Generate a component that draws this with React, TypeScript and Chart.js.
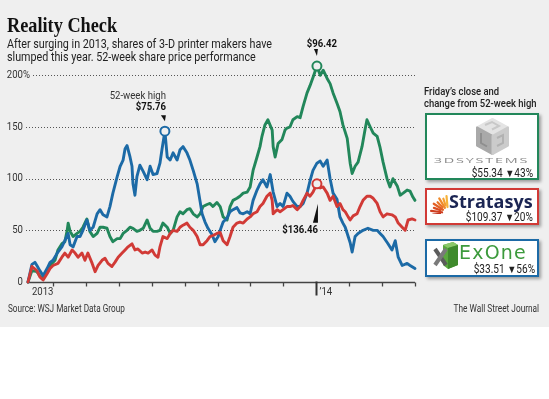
import React, { useEffect, useRef } from "react";
import { Chart, registerables } from "chart.js";

Chart.register(...registerables);

// ---------------- data ----------------
// x = months since Jan 1 2013, y = % change since start of period
const yTickValues = [0, 50, 100, 150, 200];
const xTickMonths = [4, 5, 6, 7, 8, 9, 10, 11, 12, 13, 14, 15];
const xTickLabels: Record<number, string> = { 4: "2013", 12: "\u201914" };
const majorTickMonth = 12;

const dddSeries: [number, number][] = [
  [3.24, 0], [3.36, 11], [3.51, 10], [3.6, 6], [3.7, 3], [3.82, 10], [3.91, 16], [4.06, 21], [4.15, 31], [4.27, 37],
  [4.36, 39], [4.43, 50], [4.46, 57], [4.52, 49], [4.61, 44], [4.73, 47], [4.82, 49], [4.91, 53], [5.03, 61], [5.12, 49],
  [5.22, 44], [5.34, 47], [5.43, 53], [5.52, 53], [5.64, 52], [5.73, 44], [5.82, 39], [5.95, 42], [6.04, 42], [6.13, 47],
  [6.25, 50], [6.34, 53], [6.43, 52], [6.55, 49], [6.64, 50], [6.74, 52], [6.86, 60], [6.95, 52], [7.04, 49], [7.16, 49],
  [7.25, 50], [7.34, 57], [7.47, 53], [7.56, 47], [7.65, 50], [7.77, 63], [7.86, 68], [7.95, 66], [8.07, 70], [8.16, 71],
  [8.26, 66], [8.38, 63], [8.47, 66], [8.56, 73], [8.68, 75], [8.77, 76], [8.86, 73], [8.98, 77], [9.08, 73], [9.17, 63],
  [9.29, 60], [9.38, 73], [9.47, 79], [9.59, 81], [9.68, 83], [9.78, 86], [9.9, 87], [9.99, 92], [10.08, 108], [10.2, 121],
  [10.29, 131], [10.35, 141], [10.44, 152], [10.53, 157], [10.66, 147], [10.69, 131], [10.75, 121], [10.84, 134], [10.96, 138], [11.05, 147],
  [11.11, 149], [11.2, 150], [11.29, 157], [11.42, 160], [11.51, 159], [11.6, 170], [11.72, 183], [11.81, 190], [11.9, 198], [12.02, 209],
  [12.12, 200], [12.21, 205], [12.33, 197], [12.42, 192], [12.51, 183], [12.63, 173], [12.72, 165], [12.81, 152], [12.94, 139], [13.03, 115],
  [13.09, 105], [13.18, 112], [13.27, 116], [13.39, 131], [13.48, 147], [13.54, 157], [13.64, 150], [13.73, 144], [13.85, 141], [13.94, 130],
  [14.03, 116], [14.15, 100], [14.24, 92], [14.33, 100], [14.46, 93], [14.55, 84], [14.64, 86], [14.76, 89], [14.85, 88], [14.94, 82],
  [15.0, 79],
];

const ssysSeries: [number, number][] = [
  [3.24, 0], [3.36, 15], [3.51, 11], [3.6, 5], [3.7, 2], [3.82, 8], [3.91, 13], [4.0, 16], [4.15, 18], [4.27, 24],
  [4.36, 28], [4.46, 24], [4.58, 31], [4.67, 28], [4.76, 24], [4.88, 28], [4.97, 21], [5.06, 28], [5.19, 18], [5.28, 10],
  [5.37, 16], [5.49, 21], [5.58, 23], [5.67, 18], [5.79, 15], [5.88, 19], [5.98, 24], [6.1, 28], [6.19, 31], [6.28, 34],
  [6.4, 37], [6.49, 31], [6.58, 32], [6.71, 28], [6.8, 29], [6.89, 28], [7.01, 31], [7.1, 26], [7.19, 24], [7.25, 34],
  [7.34, 44], [7.47, 42], [7.56, 47], [7.65, 50], [7.77, 49], [7.86, 53], [7.95, 55], [8.07, 57], [8.16, 53], [8.26, 50],
  [8.38, 44], [8.47, 36], [8.56, 36], [8.68, 40], [8.77, 44], [8.86, 45], [8.98, 47], [9.08, 48], [9.17, 40], [9.29, 36],
  [9.38, 44], [9.47, 53], [9.59, 57], [9.68, 58], [9.78, 57], [9.9, 61], [9.99, 63], [10.08, 66], [10.2, 68], [10.29, 73],
  [10.38, 76], [10.5, 83], [10.6, 86], [10.66, 79], [10.69, 66], [10.81, 70], [10.9, 68], [10.99, 70], [11.11, 73], [11.2, 73],
  [11.29, 74], [11.42, 70], [11.51, 73], [11.6, 79], [11.72, 86], [11.81, 83], [11.9, 87], [12.02, 95], [12.12, 91], [12.21, 92],
  [12.33, 86], [12.42, 79], [12.51, 83], [12.63, 73], [12.72, 76], [12.81, 70], [12.88, 68], [12.97, 63], [13.03, 60], [13.12, 64],
  [13.24, 66], [13.33, 73], [13.42, 79], [13.54, 83], [13.64, 83], [13.73, 81], [13.85, 76], [13.94, 68], [14.03, 63], [14.15, 66],
  [14.3, 65], [14.4, 63], [14.49, 57], [14.61, 53], [14.7, 50], [14.79, 60], [14.91, 61], [15.0, 60],
];

const xoneSeries: [number, number][] = [
  [3.24, 0], [3.36, 17], [3.45, 19], [3.51, 16], [3.6, 11], [3.7, 6], [3.82, 13], [3.91, 19], [4.0, 21], [4.15, 29],
  [4.27, 34], [4.36, 40], [4.46, 47], [4.52, 36], [4.61, 34], [4.73, 44], [4.82, 44], [4.91, 50], [5.03, 60], [5.12, 50],
  [5.22, 53], [5.34, 66], [5.43, 70], [5.52, 65], [5.64, 63], [5.73, 73], [5.82, 86], [5.95, 102], [6.04, 112], [6.13, 118],
  [6.19, 129], [6.25, 132], [6.34, 121], [6.4, 112], [6.43, 95], [6.49, 84], [6.55, 102], [6.64, 113], [6.74, 107], [6.86, 99],
  [6.95, 112], [7.04, 104], [7.16, 105], [7.25, 115], [7.31, 128], [7.34, 134], [7.4, 146], [7.47, 121], [7.56, 118], [7.65, 125],
  [7.77, 118], [7.86, 128], [7.95, 131], [8.07, 125], [8.16, 118], [8.26, 108], [8.38, 95], [8.47, 78], [8.53, 66], [8.62, 58],
  [8.71, 52], [8.83, 46], [8.92, 39], [9.02, 44], [9.08, 50], [9.17, 58], [9.29, 62], [9.38, 68], [9.47, 70], [9.59, 72],
  [9.68, 67], [9.78, 66], [9.9, 68], [9.99, 66], [10.08, 79], [10.2, 89], [10.29, 95], [10.38, 99], [10.5, 92], [10.6, 104],
  [10.69, 87], [10.81, 73], [10.9, 76], [10.99, 73], [11.11, 86], [11.2, 83], [11.29, 78], [11.42, 73], [11.51, 73], [11.6, 76],
  [11.72, 86], [11.81, 98], [11.9, 108], [12.02, 115], [12.12, 117], [12.21, 112], [12.33, 118], [12.42, 100], [12.51, 86], [12.63, 80],
  [12.72, 63], [12.81, 57], [12.88, 53], [12.97, 44], [13.03, 38], [13.09, 29], [13.18, 44], [13.27, 47], [13.42, 50], [13.57, 52],
  [13.73, 50], [13.85, 50], [13.94, 47], [14.03, 44], [14.18, 37], [14.3, 31], [14.4, 40], [14.49, 24], [14.61, 16], [14.76, 18],
  [14.85, 16], [15.0, 13],
];

const titleText = "Reality Check";
const subtitleLines = [
  "After surging in 2013, shares of 3-D printer makers have",
  "slumped this year. 52-week share price performance",
];
const panelHeader = ["Friday\u2019s close and", "change from 52-week high"];
const peakCaption = "52-week high";
const xonePeakLabel = "$75.76";
const dddPeakLabel = "$96.42";
const ssysPeakLabel = "$136.46";
const dddClose = "$55.34";
const dddChange = "43%";
const ssysClose = "$109.37";
const ssysChange = "20%";
const xoneClose = "$33.51";
const xoneChange = "56%";
const sourceText = "Source: WSJ Market Data Group";
const creditText = "The Wall Street Journal";

// ---------------- styles ----------------
const BG = "#efefef";
const GREEN = "#22875a";
const RED = "#d13a36";
const BLUE = "#1c6aa6";
const SANS = "Roboto, 'Liberation Sans', sans-serif";

function drawText(
  ctx: CanvasRenderingContext2D,
  text: string,
  x: number,
  y: number,
  align: "left" | "right" | "center",
  font: string,
  color: string,
  sx = 0.87
) {
  ctx.save();
  ctx.font = font;
  ctx.fillStyle = color;
  ctx.textBaseline = "middle";
  ctx.textAlign = "left";
  const w = ctx.measureText(text).width * sx;
  const left = align === "left" ? x : align === "right" ? x - w : x - w / 2;
  ctx.translate(left, y);
  ctx.scale(sx, 1);
  ctx.fillText(text, 0, 0);
  ctx.restore();
  return { left, right: left + w };
}

const decorPlugin = {
  id: "wsjDecor",
  beforeDatasetsDraw(chart: any) {
    const { ctx } = chart;
    const xs = chart.scales.x;
    const ys = chart.scales.y;
    const labelRight = 23;
    ctx.save();
    for (const v of yTickValues) {
      const py = ys.getPixelForValue(v);
      let end: number;
      if (v === 200) {
        drawText(ctx, String(v), labelRight, py, "right", `11px ${SANS}`, "#333");
        end = drawText(ctx, "%", labelRight, py, "left", `11px ${SANS}`, "#333").right;
      } else {
        end = drawText(ctx, String(v), labelRight, py, "right", `11px ${SANS}`, "#333").right;
      }
      if (v > 0) {
        ctx.beginPath();
        ctx.setLineDash([1, 2]);
        ctx.lineWidth = 1;
        ctx.strokeStyle = "#555";
        ctx.moveTo(end + 3, Math.round(py) + 0.5);
        ctx.lineTo(xs.right, Math.round(py) + 0.5);
        ctx.stroke();
        ctx.setLineDash([]);
      }
    }
    const py0 = Math.round(ys.getPixelForValue(0)) + 0.5;
    ctx.beginPath();
    ctx.strokeStyle = "#444";
    ctx.lineWidth = 1.5;
    ctx.moveTo(xs.left - 1, py0);
    ctx.lineTo(xs.right, py0);
    ctx.stroke();
    for (const m of xTickMonths) {
      const px = Math.round(xs.getPixelForValue(m)) + 0.5;
      ctx.beginPath();
      if (m === majorTickMonth) {
        ctx.lineWidth = 2;
        ctx.strokeStyle = "#333";
        ctx.moveTo(px, py0 - 1);
        ctx.lineTo(px, py0 + 13);
      } else {
        ctx.lineWidth = 1.3;
        ctx.strokeStyle = "#444";
        ctx.moveTo(px, py0);
        ctx.lineTo(px, py0 + 4);
      }
      ctx.stroke();
      const lab = xTickLabels[m];
      if (lab) {
        if (m === majorTickMonth) drawText(ctx, lab, px + 3, py0 + 10, "left", `11px ${SANS}`, "#333");
        else drawText(ctx, lab, px, py0 + 10, "right", `11px ${SANS}`, "#333");
      }
    }
    ctx.restore();
  },
  afterDatasetsDraw(chart: any) {
    const { ctx } = chart;
    const xs = chart.scales.x;
    const ys = chart.scales.y;
    const peak = (i: number) => {
      const d = chart.data.datasets[i].data as { x: number; y: number }[];
      let best = d[0];
      for (const p of d) if (p.y > best.y) best = p;
      return { px: xs.getPixelForValue(best.x), py: ys.getPixelForValue(best.y) };
    };
    const circle = (px: number, py: number, color: string) => {
      ctx.beginPath();
      ctx.arc(px, py, 4.5, 0, Math.PI * 2);
      ctx.fillStyle = BG;
      ctx.fill();
      ctx.lineWidth = 2;
      ctx.strokeStyle = color;
      ctx.stroke();
    };
    const tri = (pts: number[][]) => {
      ctx.beginPath();
      ctx.moveTo(pts[0][0], pts[0][1]);
      for (let k = 1; k < pts.length; k++) ctx.lineTo(pts[k][0], pts[k][1]);
      ctx.closePath();
      ctx.fillStyle = "#111";
      ctx.fill();
    };
    ctx.save();
    // ExOne
    const a = peak(1);
    circle(a.px, a.py, BLUE);
    drawText(ctx, peakCaption, a.px + 1, a.py - 35, "right", `11px ${SANS}`, "#333");
    drawText(ctx, xonePeakLabel, a.px + 1, a.py - 23.5, "right", `bold 11px ${SANS}`, "#111");
    tri([[a.px - 4, a.py - 16], [a.px + 1, a.py - 16], [a.px, a.py - 10]]);
    // 3D Systems
    const b = peak(2);
    circle(b.px, b.py, GREEN);
    drawText(ctx, dddPeakLabel, b.px + 5, b.py - 22, "center", `bold 11px ${SANS}`, "#111");
    tri([[b.px - 3, b.py - 17], [b.px + 1, b.py - 17], [b.px, b.py - 10]]);
    // Stratasys
    const c = peak(0);
    circle(c.px, c.py, RED);
    tri([[c.px + 1, c.py + 20], [c.px + 1, c.py + 39], [c.px - 4, c.py + 39]]);
    ctx.font = `bold 11px ${SANS}`;
    const w = ctx.measureText(ssysPeakLabel).width * 0.87;
    ctx.fillStyle = BG;
    ctx.fillRect(c.px + 1 - w - 2, c.py + 40, w + 4, 12);
    drawText(ctx, ssysPeakLabel, c.px + 1, c.py + 46, "right", `bold 11px ${SANS}`, "#111");
    ctx.restore();
  },
};

function CubeLogo() {
  return (
    <svg width={35} height={37} viewBox="0 0 35 37">
      <polygon points="17.5,1 33,9.5 17.5,18 2,9.5" fill="#e4e4e4" stroke="#e4e4e4" strokeLinejoin="round" strokeWidth={2} />
      <polygon points="2,9.5 17.5,18 17.5,36 2,27.5" fill="#a9a9a9" stroke="#a9a9a9" strokeLinejoin="round" strokeWidth={2} />
      <polygon points="17.5,18 33,9.5 33,27.5 17.5,36" fill="#cbcbcb" stroke="#cbcbcb" strokeLinejoin="round" strokeWidth={2} />
      <path d="M10,7 L17,4 L24,8 L17,11.5" fill="none" stroke="#c8c8c8" strokeWidth={2} />
      <path d="M6,15 L6,25 L12,28.5" fill="none" stroke="#8f8f8f" strokeWidth={2} />
      <path d="M22,20 L28,17 L28,25 L22,28" fill="none" stroke="#b2b2b2" strokeWidth={2} />
    </svg>
  );
}

const rayAngles = [95, 108, 121, 134, 147, 160, 173, 186];
const rayColors = ["#f6b33a", "#f4a030", "#f08a2a", "#ea7326", "#e25f24", "#d94d22", "#cf3e20", "#c4331e"];

function SunLogo() {
  return (
    <svg width={19} height={20} viewBox="0 0 19 20">
      {rayAngles.map((deg, i) => {
        const r = (deg * Math.PI) / 180;
        const cx = 18, cy = 19;
        const r1 = 6 + (i % 2) * 2, r2 = 17 - (i % 2) * 2;
        return (
          <line key={i} x1={cx + Math.cos(r) * r1} y1={cy - Math.sin(r) * r1} x2={cx + Math.cos(r) * r2} y2={cy - Math.sin(r) * r2}
            stroke={rayColors[i]} strokeWidth={2.2} strokeLinecap="round" />
        );
      })}
    </svg>
  );
}

function ExOneLogo() {
  return (
    <svg width={26} height={29} viewBox="0 0 26 29">
      <polygon points="10,4 20,1 25,4 25,24 15,28 10,24" fill="#5aa83e" />
      <polygon points="20,1 25,4 15,7 10,4" fill="#8cc86a" />
      <polygon points="15,7 25,4 25,24 15,28" fill="#3f8a2c" />
      <line x1={2} y1={8} x2={13} y2={24} stroke="#5c5c5c" strokeWidth={4} />
      <line x1={13} y1={8} x2={2} y2={24} stroke="#7a7a7a" strokeWidth={4} />
    </svg>
  );
}

const boxBase: React.CSSProperties = {
  position: "absolute",
  left: 425,
  width: 114,
  boxSizing: "border-box",
  background: "#fff",
  boxShadow: "2px 2px 3px rgba(0,0,0,0.35)",
};

const priceStyle: React.CSSProperties = {
  position: "absolute",
  fontFamily: SANS,
  fontSize: 12,
  lineHeight: "14px",
  color: "#222",
  whiteSpace: "nowrap",
  transform: "scaleX(0.84)",
  transformOrigin: "right top",
};

function Price({ close, change, right, top }: { close: string; change: string; right: number; top: number }) {
  return (
    <div style={{ ...priceStyle, right, top }}>
      {close} <span style={{ fontSize: 11 }}>{"\u25BC"}</span>{change}
    </div>
  );
}

export default function App() {
  const ref = useRef<HTMLCanvasElement>(null);
  useEffect(() => {
    const toPts = (s: [number, number][]) => s.map(([x, y]) => ({ x, y }));
    const ds = (label: string, s: [number, number][], color: string) => ({
      label,
      data: toPts(s),
      borderColor: color,
      backgroundColor: color,
      borderWidth: 2.9,
      pointRadius: 0,
      tension: 0,
      clip: false as any,
      borderJoinStyle: "round" as const,
      borderCapStyle: "round" as const,
    });
    const chart = new Chart(ref.current!, {
      type: "line",
      data: {
        datasets: [
          ds("Stratasys", ssysSeries, RED),
          ds("ExOne", xoneSeries, BLUE),
          ds("3D Systems", dddSeries, GREEN),
        ],
      },
      options: {
        animation: false,
        responsive: false,
        devicePixelRatio: 1,
        layout: { padding: { left: 28, right: 134, top: 65, bottom: 48 } },
        scales: {
          x: { type: "linear", min: 3.24, max: 15.0, display: false },
          y: { type: "linear", min: 0, max: 210, display: false },
        },
        plugins: { legend: { display: false }, tooltip: { enabled: false } },
      },
      plugins: [decorPlugin],
    } as any);
    return () => chart.destroy();
  }, []);

  return (
    <div style={{ position: "fixed", left: 0, top: 0, width: 549, height: 399, background: "#fff", overflow: "hidden" }}>
      <div style={{ position: "absolute", left: 0, top: 0, width: 549, height: 327, background: BG }} />
      <canvas ref={ref} width={549} height={330} style={{ position: "absolute", left: 0, top: 0, width: 549, height: 330 }} />
      <div style={{ position: "absolute", left: 7, top: 13, fontFamily: "'Liberation Serif', serif", fontWeight: 700, fontSize: 21, lineHeight: "24px", color: "#111", whiteSpace: "nowrap", transform: "scaleX(0.87)", transformOrigin: "left top" }}>
        {titleText}
      </div>
      {subtitleLines.map((t, i) => (
        <div key={i} style={{ position: "absolute", left: 7, top: 38 + i * 13, fontFamily: SANS, fontSize: 12, lineHeight: "13px", color: "#222", whiteSpace: "nowrap", transform: "scaleX(0.895)", transformOrigin: "left top" }}>
          {t}
        </div>
      ))}
      {panelHeader.map((t, i) => (
        <div key={i} style={{ position: "absolute", left: 424, top: 86 + i * 12, fontFamily: SANS, fontWeight: 500, fontSize: 11, lineHeight: "12px", color: "#222", whiteSpace: "nowrap", transform: "scaleX(0.86)", transformOrigin: "left top" }}>
          {t}
        </div>
      ))}
      {/* 3D Systems */}
      <div style={{ ...boxBase, top: 113, height: 67, border: `2px solid ${GREEN}` }}>
        <div style={{ position: "absolute", left: 48, top: 3 }}><CubeLogo /></div>
        <div style={{ position: "absolute", left: 4, top: 40, width: 102, textAlign: "center", fontFamily: "'Open Sans', sans-serif", fontSize: 8, lineHeight: "9px", color: "#8a8a8a", letterSpacing: 1, whiteSpace: "nowrap" }}>
          <span style={{ display: "inline-block", transform: "scaleX(1.8)" }}>3DSYSTEMS</span>
        </div>
        <Price close={dddClose} change={dddChange} right={4} top={50.5} />
      </div>
      {/* Stratasys */}
      <div style={{ ...boxBase, top: 188, height: 37, border: `2px solid ${RED}` }}>
        <div style={{ position: "absolute", left: 3, top: 4 }}><SunLogo /></div>
        <div style={{ position: "absolute", left: 22, top: 1, fontFamily: "'Open Sans', sans-serif", fontWeight: 700, fontSize: 18, lineHeight: "20px", color: "#1b2553", whiteSpace: "nowrap" }}>
          Stratasys
        </div>
        <Price close={ssysClose} change={ssysChange} right={4} top={19.5} />
      </div>
      {/* ExOne */}
      <div style={{ ...boxBase, top: 239, height: 38, border: `2px solid ${BLUE}` }}>
        <div style={{ position: "absolute", left: 6, top: 0 }}><ExOneLogo /></div>
        <div style={{ position: "absolute", left: 32, top: 0, fontFamily: "'DejaVu Sans', sans-serif", fontSize: 19, lineHeight: "22px", color: "#3c9a3c", letterSpacing: 1.2, whiteSpace: "nowrap" }}>
          ExOne
        </div>
        <Price close={xoneClose} change={xoneChange} right={2} top={20.5} />
      </div>
      <div style={{ position: "absolute", left: 8, top: 303, fontFamily: SANS, fontSize: 10, lineHeight: "12px", color: "#333", whiteSpace: "nowrap", transform: "scaleX(0.82)", transformOrigin: "left top" }}>
        {sourceText}
      </div>
      <div style={{ position: "absolute", right: 10, top: 303, fontFamily: SANS, fontSize: 10, lineHeight: "12px", color: "#333", whiteSpace: "nowrap", transform: "scaleX(0.83)", transformOrigin: "right top" }}>
        {creditText}
      </div>
    </div>
  );
}
